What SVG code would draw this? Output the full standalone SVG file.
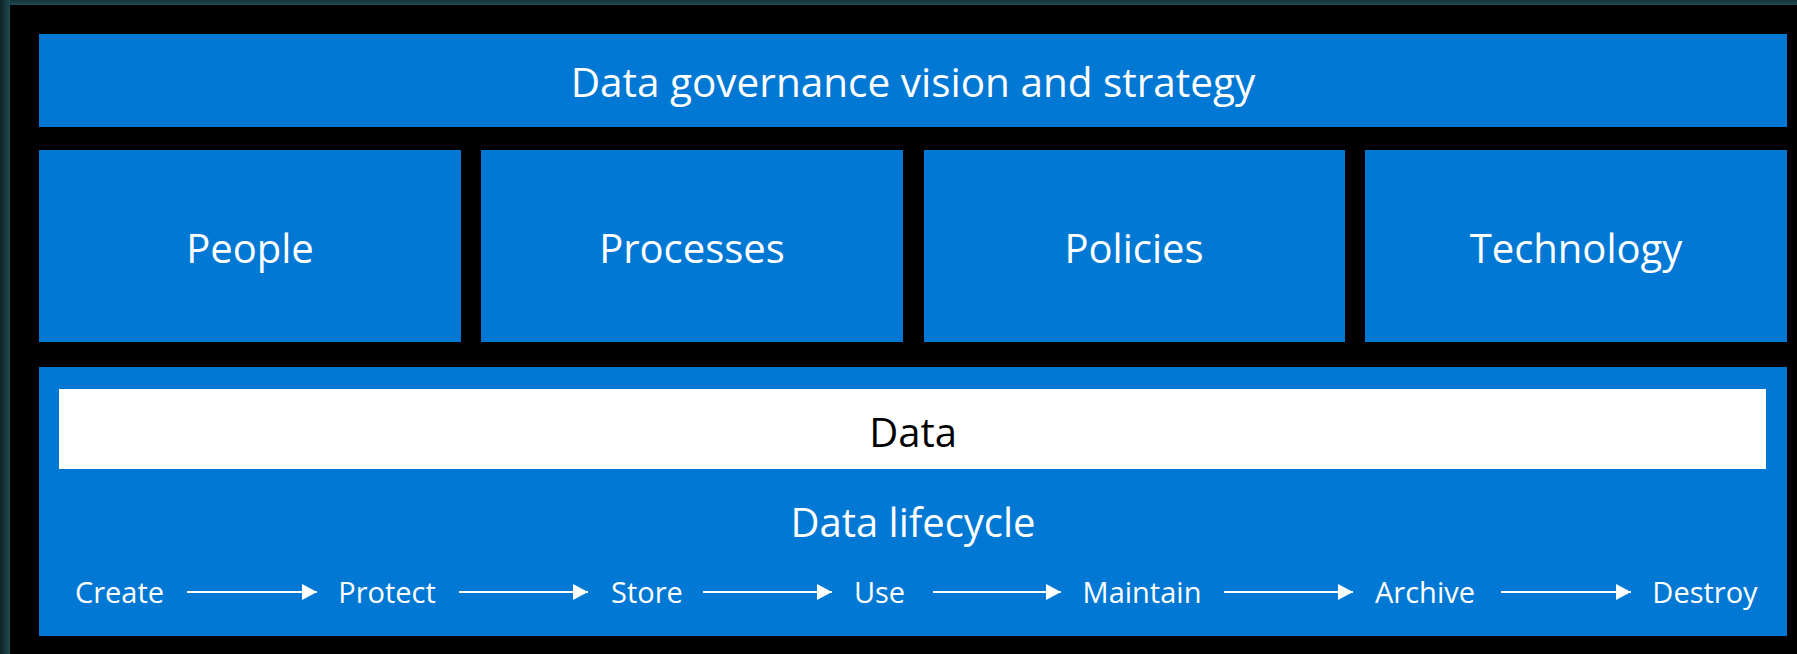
<svg xmlns="http://www.w3.org/2000/svg" width="1797" height="654" viewBox="0 0 1797 654">
  <defs>
    <linearGradient id="edgeL" x1="0" y1="0" x2="1" y2="0">
      <stop offset="0" stop-color="#0e2225"/>
      <stop offset="1" stop-color="#1e4a50"/>
    </linearGradient>
    <linearGradient id="edgeT" x1="0" y1="0" x2="0" y2="1">
      <stop offset="0" stop-color="#16363b"/>
      <stop offset="1" stop-color="#1e4a50"/>
    </linearGradient>
    <marker id="arrow" markerUnits="userSpaceOnUse" markerWidth="16" markerHeight="18" refX="15" refY="8" orient="auto">
      <path d="M0,0 L15,8 L0,16 Z" fill="#ffffff"/>
    </marker>
    <style>
      .box { fill: #0078d4; }
      .lbl { font-family: "Open Sans", "Noto Sans", "DejaVu Sans", sans-serif; fill: #ffffff; text-anchor: middle; }
      .t1 { font-size: 40.5px; }
      .t2 { font-size: 40px; }
      .t3 { font-size: 29px; }
      .conn { stroke: #ffffff; stroke-width: 2; fill: none; marker-end: url(#arrow); }
    </style>
  </defs>

  <rect x="0" y="0" width="1797" height="654" fill="#000000"/>
  <rect x="0" y="0" width="1797" height="5" fill="url(#edgeT)"/>
  <rect x="0" y="0" width="10" height="654" fill="url(#edgeL)"/>

  <g id="vision">
    <rect class="box" x="39" y="34" width="1748" height="93"/>
    <text class="lbl t1" x="913" y="97">Data governance vision and strategy</text>
  </g>

  <g id="people">
    <rect class="box" x="39" y="150" width="422" height="192"/>
    <text class="lbl t2" x="250" y="263">People</text>
  </g>
  <g id="processes">
    <rect class="box" x="481" y="150" width="422" height="192"/>
    <text class="lbl t2" x="692" y="263">Processes</text>
  </g>
  <g id="policies">
    <rect class="box" x="924" y="150" width="421" height="192"/>
    <text class="lbl t2" x="1134" y="263">Policies</text>
  </g>
  <g id="technology">
    <rect class="box" x="1365" y="150" width="422" height="192"/>
    <text class="lbl t2" x="1576" y="263">Technology</text>
  </g>

  <g id="lifecycle">
    <rect class="box" x="39" y="367" width="1748" height="269"/>
    <text class="lbl t2" x="913" y="537">Data lifecycle</text>
  </g>
  <g id="data">
    <rect x="59" y="389" width="1707" height="80" fill="#ffffff"/>
    <text class="lbl t2" x="913" y="447" style="fill:#000000">Data</text>
  </g>

  <g id="step-create"><text class="lbl t3" x="119.5" y="603">Create</text></g>
  <g id="step-protect"><text class="lbl t3" x="387" y="603">Protect</text></g>
  <g id="step-store"><text class="lbl t3" x="647" y="603">Store</text></g>
  <g id="step-use"><text class="lbl t3" x="879.5" y="603">Use</text></g>
  <g id="step-maintain"><text class="lbl t3" x="1142" y="603">Maintain</text></g>
  <g id="step-archive"><text class="lbl t3" x="1425" y="603">Archive</text></g>
  <g id="step-destroy"><text class="lbl t3" x="1705" y="603">Destroy</text></g>

  <g id="connectors">
    <line class="conn" x1="187" y1="592" x2="317" y2="592"/>
    <line class="conn" x1="459" y1="592" x2="588" y2="592"/>
    <line class="conn" x1="703" y1="592" x2="832" y2="592"/>
    <line class="conn" x1="933" y1="592" x2="1061" y2="592"/>
    <line class="conn" x1="1224" y1="592" x2="1353" y2="592"/>
    <line class="conn" x1="1501" y1="592" x2="1631" y2="592"/>
  </g>
</svg>
